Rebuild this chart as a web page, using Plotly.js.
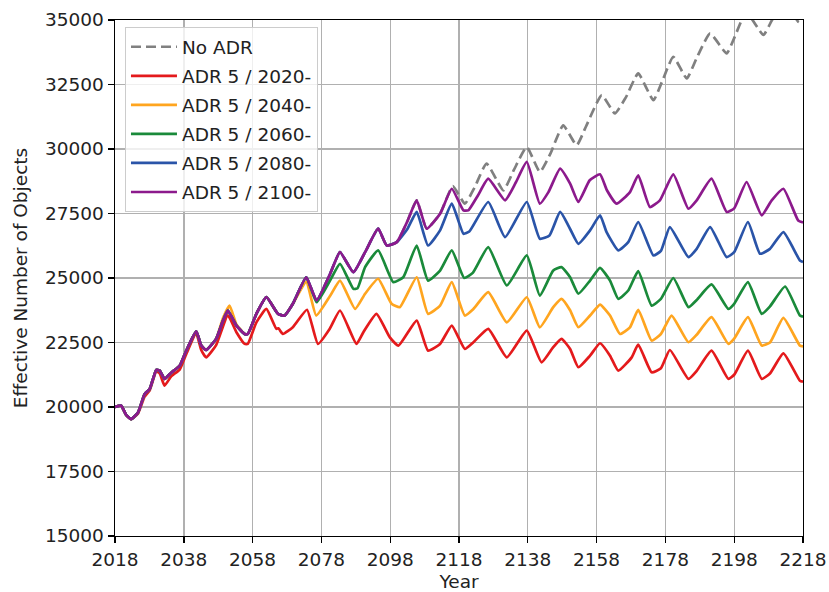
<!DOCTYPE html>
<html>
<head>
<meta charset="utf-8">
<script src="https://cdn.plot.ly/plotly-3.0.1.min.js"></script>
<style>html,body{margin:0;padding:0;background:#fff;}#chart{width:829px;height:592px;}</style>
</head>
<body>
<div id="chart"></div>
<script>
// ---- data ----
const xTicks = [2018, 2038, 2058, 2078, 2098, 2118, 2138, 2158, 2178, 2198, 2218];
const yTicks = [15000, 17500, 20000, 22500, 25000, 27500, 30000, 32500, 35000];

const seriesNames = ["No ADR", "ADR 5 / 2020-", "ADR 5 / 2040-", "ADR 5 / 2060-", "ADR 5 / 2080-", "ADR 5 / 2100-"];

const purpleYears = [2018, 2019.8, 2021.2, 2022.7, 2024.7, 2026.6, 2028.1, 2030, 2031, 2032.4, 2034.4, 2036.8, 2038.7, 2041.6, 2043.1, 2044.5, 2047.4, 2049.4, 2050.8, 2053.3, 2055.7, 2056.6, 2059.1, 2062, 2065.4, 2067.3, 2069.7, 2073.6, 2076.6, 2080.5, 2083.4, 2087.3, 2090.7, 2094.5, 2097, 2099.9, 2103, 2105.7, 2108.6, 2112.5, 2115.9, 2119.3, 2120.7, 2123.5, 2126.5, 2131.4, 2134.5, 2137.7, 2141.5, 2144, 2147.4, 2150.3, 2152.7, 2156, 2159, 2161, 2163.8, 2167.7, 2170.1, 2173.5, 2176.4, 2180.3, 2184.7, 2187.1, 2191.4, 2195.8, 2198, 2201.6, 2206, 2208.9, 2212.3, 2216.6, 2218];
const purpleVals = [20000, 20050, 19700, 19530, 19790, 20500, 20700, 21440, 21410, 21090, 21340, 21600, 22180, 22930, 22380, 22210, 22640, 23350, 23740, 23155, 22830, 22830, 23610, 24255, 23610, 23545, 24000, 25030, 24130, 25150, 26000, 25225, 26000, 26910, 26260, 26390, 27200, 28010, 26910, 27490, 28460, 27620, 27620, 28200, 28850, 28010, 28700, 29500, 27880, 28330, 29240, 28660, 27950, 28790, 29020, 28400, 27880, 28330, 28980, 27750, 28010, 29020, 27685, 28010, 28850, 27560, 27700, 28720, 27430, 28010, 28460, 27230, 27150];

const grayYears = [2018, 2019.8, 2021.2, 2022.7, 2024.7, 2026.6, 2028.1, 2030, 2031, 2032.4, 2034.4, 2036.8, 2038.7, 2041.6, 2043.1, 2044.5, 2047.4, 2049.4, 2050.8, 2053.3, 2055.7, 2056.6, 2059.1, 2062, 2065.4, 2067.3, 2069.7, 2073.6, 2076.6, 2080.5, 2083.4, 2087.3, 2090.7, 2094.5, 2097, 2099.9, 2103, 2105.7, 2108.6, 2112.5, 2116.2, 2119.7, 2122.5, 2126, 2130.9, 2134, 2137.7, 2141.5, 2144.5, 2148.3, 2152.2, 2155, 2159.5, 2163.3, 2166.5, 2170.1, 2174.5, 2177, 2180.3, 2184.2, 2187, 2191, 2195.8, 2198, 2201.5, 2206.5, 2209, 2212.5, 2216.6, 2218];
const grayVals = [20000, 20050, 19700, 19530, 19790, 20500, 20700, 21440, 21410, 21090, 21340, 21600, 22180, 22930, 22380, 22210, 22640, 23350, 23740, 23155, 22830, 22830, 23610, 24255, 23610, 23545, 24000, 25030, 24130, 25150, 26000, 25225, 26000, 26910, 26260, 26390, 27200, 28010, 26910, 27490, 28560, 27880, 28500, 29435, 28400, 29200, 30080, 29110, 29800, 30920, 30145, 30900, 32090, 31380, 32000, 32930, 31890, 32600, 33575, 32735, 33500, 34480, 33705, 34300, 35300, 34420, 35000, 35700, 34935, 34850];

const redYears = [2018, 2019.8, 2021.2, 2022.7, 2024.7, 2026.6, 2028.1, 2030, 2031, 2032.4, 2034.4, 2036.8, 2038.7, 2041.6, 2043.1, 2044.5, 2047.4, 2050.8, 2053.3, 2055.7, 2056.6, 2059.1, 2062, 2064.9, 2065.5, 2066.8, 2069.7, 2073.8, 2077, 2080.5, 2083.4, 2088.2, 2090.2, 2094, 2097.9, 2100.4, 2105.7, 2109, 2112.5, 2115.9, 2119.7, 2122.2, 2126.5, 2131.9, 2137.7, 2142, 2145.4, 2147.8, 2150.3, 2152.7, 2156.1, 2159, 2161.9, 2164.3, 2168.2, 2170.1, 2174, 2176.7, 2179.3, 2184.7, 2187.1, 2191.4, 2196.3, 2198, 2202, 2206, 2208.4, 2212.3, 2217.1, 2218];
const redVals = [20000, 20050, 19700, 19530, 19750, 20400, 20650, 21380, 21300, 20830, 21200, 21450, 22050, 22850, 22200, 21925, 22400, 23550, 22900, 22445, 22445, 23280, 23800, 23030, 23050, 22830, 23090, 23770, 22445, 23050, 23740, 22445, 22900, 23610, 22700, 22380, 23350, 22185, 22445, 23155, 22250, 22510, 23030, 21925, 22960, 21730, 22320, 22640, 22250, 21540, 21990, 22470, 21990, 21410, 21925, 22420, 21345, 21500, 22210, 21090, 21400, 22185, 21090, 21250, 22185, 21090, 21300, 22080, 21020, 20980];

const orangeYears = [2018, 2019.8, 2021.2, 2022.7, 2024.7, 2026.6, 2028.1, 2030, 2031, 2032.4, 2034.4, 2036.8, 2038.7, 2041.6, 2043.1, 2044.5, 2047.4, 2049.4, 2051.3, 2053.3, 2055.7, 2056.6, 2059.1, 2062, 2065.4, 2067.3, 2069.7, 2073.6, 2076.5, 2080.5, 2083.4, 2087.8, 2090.7, 2094.5, 2098.4, 2100.8, 2105.7, 2109, 2112.5, 2115.9, 2119.7, 2122.2, 2126.5, 2131.9, 2137.7, 2141.5, 2145.4, 2147.8, 2150.3, 2152.7, 2156.1, 2159, 2161.9, 2164.8, 2167.7, 2170.1, 2174, 2176.7, 2179.8, 2184.7, 2187.1, 2191.4, 2196.3, 2198, 2202, 2206, 2208.4, 2212.3, 2217.1, 2218];
const orangeVals = [20000, 20050, 19700, 19530, 19790, 20500, 20700, 21440, 21410, 21090, 21340, 21600, 22180, 22930, 22380, 22210, 22640, 23450, 23930, 23200, 22830, 22830, 23610, 24255, 23610, 23545, 24000, 24850, 23545, 24300, 24900, 23800, 24390, 24970, 24000, 23870, 25030, 23610, 23930, 24840, 23545, 23800, 24450, 23280, 24255, 23090, 23870, 24190, 23750, 23090, 23545, 23970, 23545, 22830, 23090, 23765, 22575, 22830, 23545, 22510, 22800, 23480, 22445, 22650, 23480, 22380, 22500, 23455, 22380, 22350];

const greenYears = [2018, 2019.8, 2021.2, 2022.7, 2024.7, 2026.6, 2028.1, 2030, 2031, 2032.4, 2034.4, 2036.8, 2038.7, 2041.6, 2043.1, 2044.5, 2047.4, 2049.4, 2050.8, 2053.3, 2055.7, 2056.6, 2059.1, 2062, 2065.4, 2067.3, 2069.7, 2073.6, 2076.6, 2080.5, 2083.4, 2087.3, 2088.5, 2090.7, 2094.5, 2098.9, 2101.8, 2105.7, 2109, 2112.5, 2115.9, 2119.5, 2122, 2126.5, 2131.9, 2137.7, 2141.5, 2145.4, 2147.8, 2150.3, 2152.7, 2156.1, 2159, 2161.9, 2164.3, 2167.2, 2170.1, 2174, 2176.7, 2180.3, 2184.7, 2187.1, 2191.4, 2196.3, 2198, 2202, 2206, 2208.4, 2212.8, 2217.1, 2218];
const greenVals = [20000, 20050, 19700, 19530, 19790, 20500, 20700, 21440, 21410, 21090, 21340, 21600, 22180, 22930, 22380, 22210, 22640, 23350, 23740, 23155, 22830, 22830, 23610, 24255, 23610, 23545, 24000, 25030, 24060, 24900, 25550, 24580, 24600, 25420, 26070, 24840, 25030, 26260, 24900, 25290, 26070, 25000, 25200, 26195, 24710, 25875, 24320, 25290, 25420, 25030, 24390, 24900, 25395, 24900, 24190, 24515, 25265, 23930, 24190, 25000, 23870, 24150, 24750, 23800, 24000, 24840, 23610, 23900, 24670, 23545, 23500];

const blueYears = [2018, 2019.8, 2021.2, 2022.7, 2024.7, 2026.6, 2028.1, 2030, 2031, 2032.4, 2034.4, 2036.8, 2038.7, 2041.6, 2043.1, 2044.5, 2047.4, 2049.4, 2050.8, 2053.3, 2055.7, 2056.6, 2059.1, 2062, 2065.4, 2067.3, 2069.7, 2073.6, 2076.6, 2080.5, 2083.4, 2087.3, 2090.7, 2094.5, 2097, 2099.9, 2103, 2105.7, 2109, 2112.5, 2115.9, 2119.3, 2121, 2126.5, 2131.4, 2137.7, 2141.5, 2144.3, 2147.4, 2150.3, 2152.7, 2156.1, 2159, 2160.9, 2164.3, 2167.2, 2170.1, 2174.5, 2176.7, 2179.3, 2184.7, 2187.1, 2191, 2195.8, 2198, 2202, 2205.5, 2208.4, 2212.3, 2217.1, 2218];
const blueVals = [20000, 20050, 19700, 19530, 19790, 20500, 20700, 21440, 21410, 21090, 21340, 21600, 22180, 22930, 22380, 22210, 22640, 23350, 23740, 23155, 22830, 22830, 23610, 24255, 23610, 23545, 24000, 25030, 24130, 25150, 26000, 25225, 26000, 26910, 26260, 26390, 26900, 27560, 26260, 26845, 27880, 26715, 26800, 27945, 26585, 27945, 26520, 26650, 27560, 26900, 26325, 26845, 27430, 26780, 26070, 26390, 27170, 25875, 26050, 26975, 25810, 26130, 26975, 25810, 26000, 27170, 25940, 26130, 26780, 25680, 25620];

const seriesColors = ["#808080", "#e41a1c", "#ffa51f", "#1a8a3a", "#2a54a8", "#8c1a8c"];

// ---- traces (drawn gray first so purple sits on top, as in the reference) ----
const xs = [grayYears, redYears, orangeYears, greenYears, blueYears, purpleYears];
const ys = [grayVals, redVals, orangeVals, greenVals, blueVals, purpleVals];
const traces = [];
for (let i = 0; i < 6; i++) {
  traces.push({
    type: "scatter", mode: "lines", name: seriesNames[i],
    x: xs[i], y: ys[i], legendgroup: "g" + i,
    line: {color: seriesColors[i], width: 2.7, dash: i === 0 ? "10px,5px" : "solid",
           shape: "spline", smoothing: 0.45}
  });
}

const font = {family: "DejaVu Sans, sans-serif", size: 18.5, color: "#222"};
const layout = {
  width: 829, height: 592,
  margin: {l: 115, r: 26, t: 20, b: 56, pad: 0},
  paper_bgcolor: "#fff", plot_bgcolor: "#fff",
  font: font,
  showlegend: true,
  legend: {
    x: 0.0145, y: 0.986, xanchor: "left", yanchor: "top",
    bgcolor: "rgba(255,255,255,0.8)", bordercolor: "#cccccc", borderwidth: 1,
    font: font, traceorder: "grouped", tracegroupgap: 2, itemwidth: 46
  },
  xaxis: {
    range: [2018, 2218], tickmode: "array", tickvals: xTicks, ticktext: xTicks.map(String),
    showgrid: true, gridcolor: "#b0b0b0", gridwidth: 1.4,
    showline: true, linecolor: "#000", linewidth: 1.4, mirror: true,
    ticks: "outside", ticklen: 6, tickwidth: 1.4, tickcolor: "#000",
    zeroline: false, automargin: false,
    title: {text: "Year", font: font, standoff: 7}
  },
  yaxis: {
    range: [15000, 35000], tickmode: "array", tickvals: yTicks, ticktext: yTicks.map(String),
    showgrid: true, gridcolor: "#b0b0b0", gridwidth: 1.4,
    showline: true, linecolor: "#000", linewidth: 1.4, mirror: true,
    ticks: "outside", ticklen: 6, tickwidth: 1.4, tickcolor: "#000",
    zeroline: false, automargin: false,
    title: {text: "Effective Number of Objects", font: font, standoff: 12}
  }
};
Plotly.newPlot("chart", traces, layout, {staticPlot: true, displayModeBar: false});
</script>
</body>
</html>
